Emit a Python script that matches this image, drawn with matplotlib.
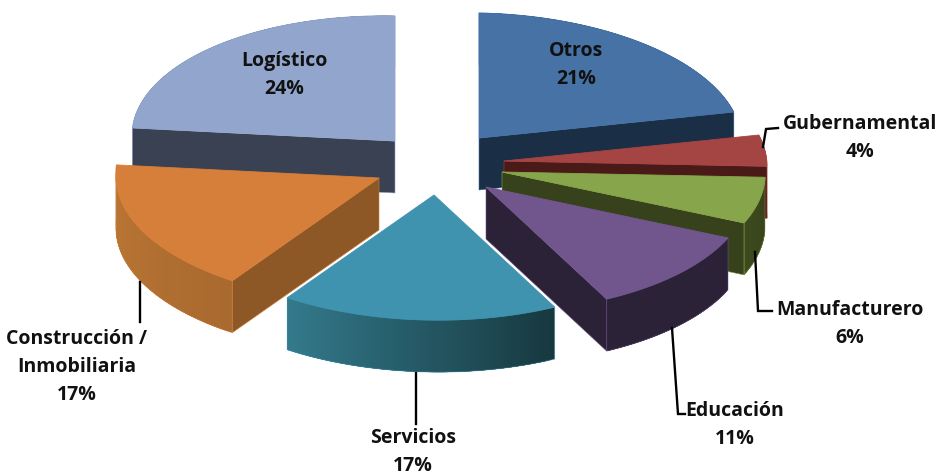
import numpy as np
import matplotlib
matplotlib.use("Agg")
import matplotlib.pyplot as plt
from matplotlib.patches import Polygon

categories = ["Otros", "Gubernamental", "Manufacturero", "Educación", "Servicios",
              "Construcción /\nInmobiliaria", "Logístico"]
values = [21, 4, 6, 11, 17, 17, 24]

apex = [(479, 138), (504, 161), (502, 172), (486, 187), (434, 195), (379, 178), (395, 141)]
top_c = ["#4672A6", "#A54543", "#87A54A", "#71568E", "#3F93AE", "#D67F3A", "#92A6CD"]
cut_c = ["#1A2E45", "#4A1A18", "#37421C", "#2C2238", "#2C2238", "#8D5826", "#3A4152"]
out_a = ["#1A2E45", "#A03C3A", "#37421C", "#2C2238", "#17383F", "#A96A2F", "#3A4152"]
out_b = ["#1A2E45", "#A03C3A", "#3D4A1E", "#2C2238", "#337A8C", "#BC7735", "#3A4152"]
label_xy = [(576, 65), (860, 138), (850, 324), (735, 425), (413, 452), (77, 367), (284, 75)]
leaders = [None,
           [(763, 147), (766, 129), (778, 128)],
           [(755, 252), (758, 311), (772, 311)],
           [(672, 328), (678, 414), (685, 414)],
           [(416, 373), (416, 424)],
           [(140, 282), (140, 322)],
           None]
draw_order = [6, 0, 1, 2, 5, 3, 4]

RX, RY, DEPTH = 263, 125, 52
SX, SY = -0.055, 0.02

plt.rcParams["font.family"] = ["Open Sans", "DejaVu Sans"]
fig = plt.figure(figsize=(9.43, 4.76), dpi=100, facecolor="white")
ax = fig.add_axes([0, 0, 1, 1])
ax.set_xlim(0, 943)
ax.set_ylim(476, 0)
ax.axis("off")

edges = np.radians(np.concatenate([[0], np.cumsum(values)]) * 3.6)


def rim(i, t):
    dx = RX * np.sin(t)
    dy = -RY * np.cos(t)
    return apex[i][0] + dx + SX * np.maximum(dy, 0), apex[i][1] + dy + SY * dx


def rgb(c):
    return np.array(matplotlib.colors.to_rgb(c))


z = 1
for i in draw_order:
    t = np.linspace(edges[i], edges[i + 1], 90)
    x, y = rim(i, t)
    ax0, ay0 = apex[i]
    # outer wall, shaded along the arc; each strip overlaps the next
    for k in range(len(t) - 1):
        f = k / (len(t) - 2)
        col = rgb(out_a[i]) * (1 - f) + rgb(out_b[i]) * f
        e = len(t) - 1 if k > len(t) - 6 else k + 5
        ax.add_patch(Polygon(np.column_stack([np.r_[x[k:e + 1], x[k:e + 1][::-1]],
                                              np.r_[y[k:e + 1], (y[k:e + 1] + DEPTH)[::-1]]]),
                             fc=col, ec="none", zorder=z))
    ax.add_patch(Polygon(np.column_stack([np.r_[x, x[::-1]], np.r_[y, (y + DEPTH)[::-1]]]),
                         fc="none", ec=top_c[i], lw=0.6, alpha=0.55, zorder=z))
    # cut faces that look towards the viewer
    faces = []
    if np.sin(edges[i]) < -1e-6:
        faces.append((x[0], y[0]))
    if np.sin(edges[i + 1]) > 1e-6:
        faces.append((x[-1], y[-1]))
    for ex, ey in faces:
        ax.add_patch(Polygon([(ax0, ay0), (ex, ey), (ex, ey + DEPTH), (ax0, ay0 + DEPTH)],
                             fc=cut_c[i], ec=top_c[i], lw=0.4, zorder=z + 0.2))
    # top
    ax.add_patch(Polygon(np.column_stack([np.r_[ax0, x], np.r_[ay0, y]]),
                         fc=top_c[i], ec=top_c[i], lw=0.6, zorder=z + 0.5))
    z += 1

for i, name in enumerate(categories):
    ax.text(*label_xy[i], f"{name}\n{values[i]}%", ha="center", va="center",
            fontsize=14, fontweight="bold", color="#111111", linespacing=1.5, zorder=20)
    if leaders[i]:
        ax.plot(*zip(*leaders[i]), color="black", lw=1.7, zorder=19,
                solid_joinstyle="miter")

fig.savefig("out.png", dpi=100, facecolor="white")
